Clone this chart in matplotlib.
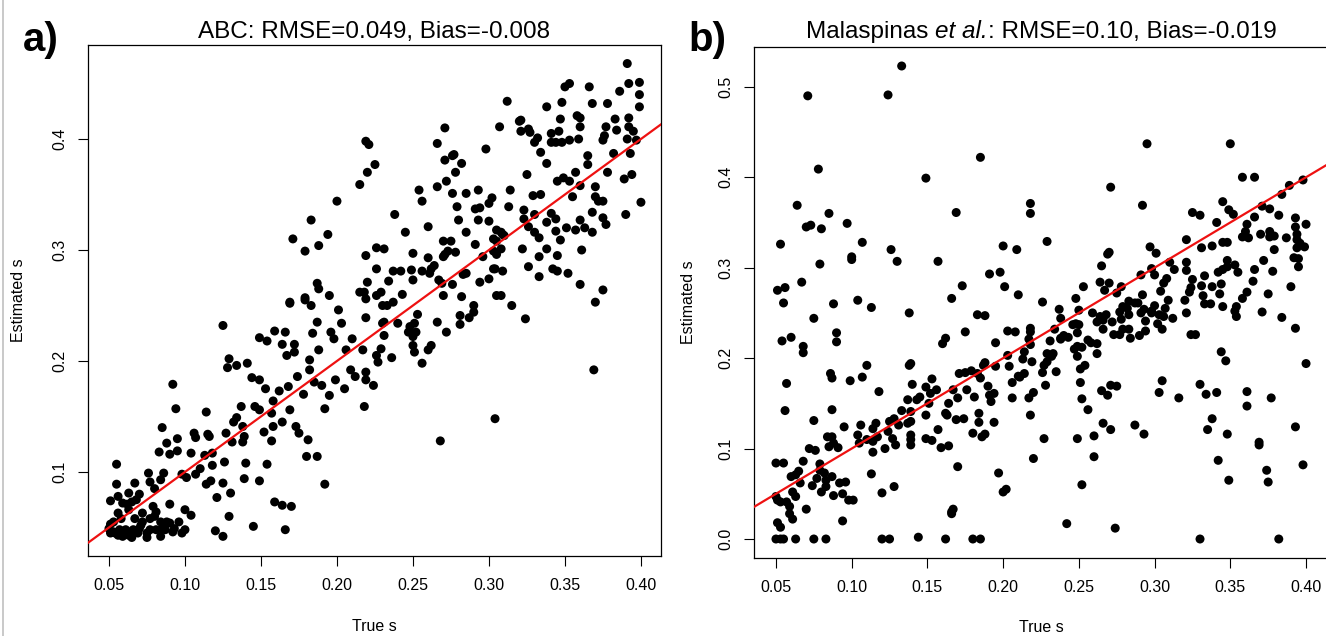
"""
Two scatter panels of estimated vs true s (ABC and Malaspinas et al.)
with the identity line, R-style axes.
"""
import matplotlib
matplotlib.use("Agg")
import matplotlib.pyplot as plt
from matplotlib.lines import Line2D

plt.rcParams['font.family'] = ['Liberation Sans', 'DejaVu Sans']

# panel a) ABC estimates
a_true = [
    0.055, 0.055, 0.051, 0.056, 0.063, 0.070, 0.067, 0.076, 0.077, 0.080,
    0.084, 0.086, 0.085, 0.088, 0.083, 0.090, 0.095, 0.095, 0.092, 0.094,
    0.098, 0.101, 0.104, 0.106, 0.107, 0.107, 0.110, 0.113, 0.114, 0.115,
    0.116, 0.118, 0.114, 0.117, 0.118, 0.121, 0.125, 0.126, 0.125, 0.127,
    0.129, 0.128, 0.134, 0.131, 0.130, 0.129, 0.120, 0.125, 0.132, 0.134,
    0.137, 0.138, 0.139, 0.138, 0.140, 0.139, 0.141, 0.144, 0.145, 0.146,
    0.149, 0.149, 0.149, 0.149, 0.152, 0.153, 0.154, 0.154, 0.157, 0.157,
    0.158, 0.158, 0.159, 0.159, 0.162, 0.164, 0.164, 0.164, 0.166, 0.166,
    0.167, 0.168, 0.169, 0.170, 0.169, 0.172, 0.172, 0.173, 0.174, 0.175,
    0.178, 0.180, 0.181, 0.179, 0.182, 0.182, 0.183, 0.184, 0.185, 0.187,
    0.187, 0.188, 0.190, 0.192, 0.192, 0.195, 0.196, 0.198, 0.199, 0.201,
    0.203, 0.205, 0.206, 0.209, 0.210, 0.212, 0.051, 0.054, 0.057, 0.059,
    0.061, 0.063, 0.066, 0.070, 0.075, 0.077, 0.084, 0.085, 0.088, 0.092,
    0.096, 0.098, 0.053, 0.056, 0.059, 0.063, 0.067, 0.072, 0.079, 0.080,
    0.090, 0.100, 0.104, 0.084, 0.072, 0.068, 0.050, 0.053, 0.056, 0.063,
    0.065, 0.069, 0.075, 0.081, 0.087, 0.090, 0.093, 0.100, 0.051, 0.058,
    0.062, 0.065, 0.071, 0.077, 0.081, 0.219, 0.221, 0.225, 0.220, 0.215,
    0.200, 0.183, 0.171, 0.179, 0.188, 0.194, 0.238, 0.245, 0.260, 0.254,
    0.256, 0.266, 0.271, 0.271, 0.276, 0.277, 0.282, 0.278, 0.272, 0.266,
    0.276, 0.285, 0.293, 0.298, 0.307, 0.302, 0.300, 0.279, 0.280, 0.291,
    0.294, 0.293, 0.300, 0.285, 0.305, 0.270, 0.275, 0.291, 0.303, 0.219,
    0.226, 0.231, 0.226, 0.250, 0.260, 0.270, 0.273, 0.278, 0.271, 0.296,
    0.303, 0.237, 0.242, 0.249, 0.256, 0.262, 0.264, 0.261, 0.234, 0.250,
    0.220, 0.218, 0.215, 0.187, 0.188, 0.195, 0.179, 0.169, 0.283, 0.285,
    0.294, 0.300, 0.303, 0.267, 0.269, 0.276, 0.270, 0.282, 0.305, 0.226,
    0.229, 0.243, 0.219, 0.219, 0.230, 0.233, 0.237, 0.230, 0.231, 0.240,
    0.248, 0.251, 0.252, 0.247, 0.250, 0.253, 0.266, 0.272, 0.281, 0.281,
    0.287, 0.290, 0.290, 0.262, 0.260, 0.250, 0.251, 0.256, 0.231, 0.229,
    0.236, 0.226, 0.227, 0.224, 0.219, 0.219, 0.218, 0.217, 0.304, 0.268,
    0.391, 0.392, 0.399, 0.399, 0.399, 0.386, 0.366, 0.368, 0.378, 0.350,
    0.353, 0.348, 0.338, 0.312, 0.358, 0.360, 0.347, 0.321, 0.320, 0.383,
    0.392, 0.392, 0.377, 0.360, 0.321, 0.326, 0.327, 0.341, 0.346, 0.332,
    0.330, 0.341, 0.344, 0.348, 0.353, 0.359, 0.376, 0.375, 0.384, 0.391,
    0.395, 0.397, 0.334, 0.338, 0.325, 0.365, 0.365, 0.382, 0.393, 0.378,
    0.357, 0.345, 0.349, 0.353, 0.360, 0.389, 0.394, 0.314, 0.329, 0.334,
    0.355, 0.370, 0.370, 0.372, 0.375, 0.400, 0.313, 0.323, 0.330, 0.323,
    0.341, 0.344, 0.368, 0.390, 0.326, 0.330, 0.333, 0.338, 0.344, 0.347,
    0.351, 0.357, 0.360, 0.363, 0.368, 0.375, 0.377, 0.322, 0.326, 0.333,
    0.338, 0.345, 0.333, 0.342, 0.345, 0.352, 0.361, 0.360, 0.375, 0.370,
    0.324, 0.315, 0.369, 0.308, 0.309, 0.310, 0.305, 0.308, 0.305, 0.309,
    0.304, 0.308,
]
a_est = [
    0.107, 0.089, 0.074, 0.078, 0.081, 0.080, 0.090, 0.099, 0.091, 0.085,
    0.093, 0.099, 0.140, 0.126, 0.118, 0.116, 0.119, 0.130, 0.179, 0.157,
    0.098, 0.095, 0.117, 0.135, 0.131, 0.098, 0.103, 0.115, 0.154, 0.134,
    0.132, 0.117, 0.089, 0.092, 0.106, 0.077, 0.232, 0.109, 0.090, 0.135,
    0.202, 0.194, 0.196, 0.127, 0.081, 0.060, 0.047, 0.042, 0.145, 0.149,
    0.159, 0.141, 0.132, 0.127, 0.108, 0.094, 0.198, 0.185, 0.051, 0.159,
    0.156, 0.092, 0.221, 0.183, 0.136, 0.175, 0.218, 0.107, 0.153, 0.128,
    0.164, 0.141, 0.227, 0.073, 0.173, 0.215, 0.145, 0.070, 0.226, 0.048,
    0.205, 0.177, 0.156, 0.069, 0.252, 0.215, 0.208, 0.141, 0.186, 0.135,
    0.170, 0.114, 0.129, 0.255, 0.201, 0.192, 0.250, 0.225, 0.181, 0.235,
    0.114, 0.210, 0.178, 0.157, 0.089, 0.169, 0.226, 0.220, 0.183, 0.246,
    0.234, 0.175, 0.210, 0.192, 0.220, 0.186, 0.045, 0.045, 0.048, 0.042,
    0.048, 0.043, 0.048, 0.049, 0.045, 0.048, 0.042, 0.049, 0.055, 0.046,
    0.055, 0.045, 0.055, 0.063, 0.072, 0.066, 0.058, 0.063, 0.069, 0.060,
    0.071, 0.066, 0.061, 0.055, 0.055, 0.075, 0.049, 0.046, 0.043, 0.046,
    0.041, 0.045, 0.041, 0.048, 0.048, 0.054, 0.049, 0.048, 0.053, 0.058,
    0.071, 0.073, 0.052, 0.058, 0.064, 0.398, 0.395, 0.377, 0.370, 0.359,
    0.344, 0.327, 0.310, 0.299, 0.304, 0.314, 0.332, 0.316, 0.321, 0.354,
    0.344, 0.396, 0.410, 0.381, 0.385, 0.386, 0.378, 0.370, 0.362, 0.357,
    0.351, 0.351, 0.354, 0.391, 0.411, 0.347, 0.342, 0.339, 0.327, 0.337,
    0.338, 0.327, 0.326, 0.316, 0.318, 0.308, 0.308, 0.305, 0.310, 0.295,
    0.302, 0.301, 0.283, 0.297, 0.293, 0.294, 0.299, 0.298, 0.296, 0.294,
    0.299, 0.281, 0.281, 0.282, 0.281, 0.283, 0.286, 0.279, 0.272, 0.273,
    0.271, 0.262, 0.262, 0.270, 0.265, 0.259, 0.257, 0.253, 0.278, 0.279,
    0.271, 0.274, 0.283, 0.273, 0.270, 0.269, 0.259, 0.258, 0.259, 0.259,
    0.262, 0.260, 0.256, 0.239, 0.250, 0.250, 0.253, 0.234, 0.235, 0.234,
    0.231, 0.234, 0.226, 0.226, 0.222, 0.242, 0.235, 0.226, 0.241, 0.233,
    0.239, 0.244, 0.250, 0.214, 0.210, 0.214, 0.208, 0.198, 0.223, 0.211,
    0.203, 0.205, 0.199, 0.178, 0.190, 0.183, 0.159, 0.210, 0.148, 0.128,
    0.468, 0.450, 0.451, 0.440, 0.429, 0.443, 0.447, 0.432, 0.432, 0.447,
    0.450, 0.433, 0.429, 0.434, 0.421, 0.419, 0.418, 0.417, 0.416, 0.418,
    0.419, 0.411, 0.411, 0.411, 0.407, 0.409, 0.406, 0.405, 0.407, 0.401,
    0.397, 0.397, 0.397, 0.397, 0.399, 0.400, 0.403, 0.399, 0.408, 0.400,
    0.407, 0.399, 0.388, 0.378, 0.368, 0.385, 0.377, 0.387, 0.387, 0.370,
    0.370, 0.362, 0.365, 0.362, 0.358, 0.364, 0.368, 0.354, 0.349, 0.350,
    0.348, 0.357, 0.348, 0.344, 0.344, 0.343, 0.339, 0.336, 0.332, 0.328,
    0.333, 0.328, 0.334, 0.332, 0.321, 0.316, 0.311, 0.325, 0.317, 0.309,
    0.320, 0.318, 0.327, 0.320, 0.316, 0.329, 0.323, 0.301, 0.285, 0.294,
    0.301, 0.295, 0.276, 0.283, 0.281, 0.279, 0.300, 0.269, 0.264, 0.253,
    0.238, 0.250, 0.192, 0.316, 0.314, 0.313, 0.308, 0.301, 0.296, 0.281,
    0.283, 0.259,
]

# panel b) Malaspinas et al. estimates
b_true = [
    0.133, 0.124, 0.071, 0.078, 0.149, 0.185, 0.064, 0.169, 0.085, 0.070,
    0.073, 0.080, 0.097, 0.053, 0.107, 0.100, 0.100, 0.126, 0.130, 0.157,
    0.200, 0.209, 0.079, 0.067, 0.051, 0.056, 0.055, 0.198, 0.191, 0.201,
    0.210, 0.173, 0.166, 0.104, 0.113, 0.088, 0.075, 0.138, 0.183, 0.188,
    0.060, 0.054, 0.090, 0.090, 0.175, 0.160, 0.162, 0.203, 0.208, 0.195,
    0.068, 0.068, 0.138, 0.139, 0.110, 0.107, 0.099, 0.057, 0.056, 0.086,
    0.087, 0.087, 0.075, 0.118, 0.140, 0.153, 0.188, 0.187, 0.171, 0.175,
    0.179, 0.183, 0.195, 0.203, 0.204, 0.206, 0.206, 0.210, 0.185, 0.190,
    0.191, 0.194, 0.192, 0.194, 0.197, 0.200, 0.202, 0.176, 0.181, 0.170,
    0.167, 0.164, 0.163, 0.162, 0.156, 0.152, 0.149, 0.151, 0.145, 0.143,
    0.137, 0.149, 0.139, 0.133, 0.137, 0.139, 0.131, 0.128, 0.125, 0.124,
    0.139, 0.139, 0.139, 0.127, 0.129, 0.122, 0.116, 0.114, 0.117, 0.114,
    0.114, 0.110, 0.106, 0.104, 0.105, 0.095, 0.087, 0.084, 0.085, 0.088,
    0.091, 0.072, 0.076, 0.050, 0.055, 0.068, 0.079, 0.079, 0.065, 0.060,
    0.063, 0.066, 0.074, 0.077, 0.082, 0.087, 0.083, 0.080, 0.083, 0.092,
    0.096, 0.094, 0.098, 0.101, 0.088, 0.061, 0.063, 0.050, 0.053, 0.057,
    0.059, 0.070, 0.059, 0.061, 0.051, 0.053, 0.094, 0.113, 0.120, 0.128,
    0.170, 0.167, 0.166, 0.166, 0.164, 0.159, 0.157, 0.153, 0.149, 0.180,
    0.186, 0.188, 0.184, 0.184, 0.174, 0.169, 0.144, 0.050, 0.053, 0.055,
    0.063, 0.075, 0.083, 0.120, 0.125, 0.162, 0.180, 0.185, 0.051,
    0.295, 0.350, 0.271, 0.358, 0.366, 0.218, 0.218, 0.292, 0.345, 0.349,
    0.352, 0.325, 0.330, 0.341, 0.398, 0.389, 0.384, 0.376, 0.382, 0.371,
    0.366, 0.361, 0.360, 0.358, 0.362, 0.370, 0.376, 0.379, 0.376, 0.393,
    0.400, 0.393, 0.394, 0.394, 0.396, 0.399, 0.394, 0.387, 0.379, 0.372,
    0.366, 0.378, 0.392, 0.395, 0.395, 0.390, 0.375, 0.371, 0.384, 0.393,
    0.400, 0.365, 0.361, 0.358, 0.354, 0.353, 0.354, 0.355, 0.353, 0.348,
    0.345, 0.342, 0.348, 0.345, 0.348, 0.338, 0.331, 0.321, 0.344, 0.343,
    0.338, 0.345, 0.333, 0.331, 0.332, 0.333, 0.337, 0.325, 0.324, 0.323,
    0.320, 0.321, 0.321, 0.313, 0.310, 0.297, 0.301, 0.298, 0.300, 0.291,
    0.278, 0.275, 0.265, 0.270, 0.269, 0.264, 0.270, 0.267, 0.253, 0.308,
    0.306, 0.304, 0.309, 0.307, 0.303, 0.306, 0.312, 0.302, 0.305, 0.321,
    0.324, 0.327, 0.300, 0.298, 0.294, 0.294, 0.290, 0.292, 0.289, 0.287,
    0.283, 0.282, 0.279, 0.277, 0.283, 0.293, 0.291, 0.298, 0.278, 0.283,
    0.279, 0.273, 0.277, 0.284, 0.272, 0.268, 0.266, 0.264, 0.262, 0.259,
    0.266, 0.258, 0.256, 0.262, 0.262, 0.248, 0.250, 0.248, 0.250, 0.246,
    0.249, 0.252, 0.249, 0.247, 0.249, 0.254, 0.251, 0.251, 0.252, 0.256,
    0.249, 0.252, 0.238, 0.237, 0.234, 0.240, 0.238, 0.243, 0.231, 0.238,
    0.233, 0.229, 0.232, 0.229, 0.227, 0.226, 0.228, 0.235, 0.226, 0.218,
    0.218, 0.217, 0.218, 0.214, 0.213, 0.219, 0.214, 0.211, 0.220, 0.217,
    0.218, 0.227, 0.220, 0.242, 0.229, 0.265, 0.269, 0.271, 0.275, 0.266,
    0.271, 0.260, 0.260, 0.274, 0.287, 0.293, 0.305, 0.303, 0.316, 0.330,
    0.334, 0.341, 0.338, 0.335, 0.344, 0.347, 0.342, 0.348, 0.349, 0.330,
    0.361, 0.361, 0.369, 0.369, 0.374, 0.375, 0.377, 0.382, 0.393, 0.398,
]
b_est = [
    0.523, 0.491, 0.490, 0.409, 0.399, 0.422, 0.369, 0.361, 0.360, 0.345,
    0.347, 0.343, 0.349, 0.326, 0.328, 0.312, 0.309, 0.320, 0.307, 0.307,
    0.324, 0.320, 0.304, 0.284, 0.275, 0.278, 0.261, 0.295, 0.293, 0.279,
    0.270, 0.280, 0.266, 0.264, 0.256, 0.260, 0.244, 0.250, 0.248, 0.247,
    0.223, 0.219, 0.228, 0.218, 0.229, 0.216, 0.222, 0.230, 0.229, 0.217,
    0.213, 0.206, 0.192, 0.194, 0.192, 0.179, 0.175, 0.172, 0.142, 0.183,
    0.178, 0.143, 0.131, 0.163, 0.171, 0.177, 0.195, 0.192, 0.183, 0.184,
    0.186, 0.183, 0.191, 0.203, 0.191, 0.173, 0.156, 0.180, 0.178, 0.169,
    0.159, 0.161, 0.152, 0.129, 0.073, 0.052, 0.055, 0.165, 0.157, 0.156,
    0.165, 0.150, 0.137, 0.139, 0.165, 0.161, 0.168, 0.150, 0.157, 0.154,
    0.154, 0.137, 0.141, 0.142, 0.128, 0.130, 0.126, 0.133, 0.130, 0.119,
    0.115, 0.104, 0.110, 0.111, 0.104, 0.100, 0.128, 0.122, 0.113, 0.108,
    0.096, 0.110, 0.126, 0.115, 0.106, 0.124, 0.113, 0.113, 0.102, 0.106,
    0.101, 0.100, 0.098, 0.084, 0.084, 0.086, 0.083, 0.076, 0.075, 0.069,
    0.071, 0.062, 0.059, 0.067, 0.073, 0.069, 0.065, 0.052, 0.058, 0.062,
    0.063, 0.050, 0.043, 0.043, 0.048, 0.052, 0.047, 0.047, 0.041, 0.041,
    0.036, 0.033, 0.028, 0.022, 0.018, 0.013, 0.020, 0.072, 0.051, 0.058,
    0.080, 0.033, 0.028, 0.030, 0.103, 0.101, 0.121, 0.109, 0.111, 0.117,
    0.113, 0.116, 0.139, 0.129, 0.133, 0.132, 0.002, 0.000, 0.000, 0.000,
    0.000, 0.000, 0.000, 0.000, 0.000, 0.000, 0.000, 0.000, 0.043,
    0.437, 0.437, 0.389, 0.400, 0.400, 0.371, 0.360, 0.369, 0.373, 0.364,
    0.359, 0.361, 0.358, 0.350, 0.397, 0.391, 0.381, 0.365, 0.358, 0.368,
    0.356, 0.348, 0.340, 0.334, 0.333, 0.337, 0.340, 0.335, 0.334, 0.355,
    0.348, 0.345, 0.337, 0.331, 0.327, 0.323, 0.322, 0.333, 0.320, 0.308,
    0.298, 0.296, 0.311, 0.310, 0.301, 0.279, 0.271, 0.251, 0.245, 0.233,
    0.194, 0.285, 0.273, 0.266, 0.257, 0.252, 0.246, 0.295, 0.303, 0.301,
    0.298, 0.295, 0.308, 0.328, 0.328, 0.324, 0.322, 0.331, 0.282, 0.271,
    0.279, 0.257, 0.291, 0.280, 0.269, 0.260, 0.260, 0.287, 0.278, 0.273,
    0.264, 0.306, 0.297, 0.298, 0.306, 0.323, 0.316, 0.299, 0.292, 0.292,
    0.279, 0.272, 0.302, 0.317, 0.315, 0.284, 0.283, 0.275, 0.279, 0.288,
    0.283, 0.274, 0.264, 0.255, 0.248, 0.246, 0.244, 0.238, 0.232, 0.250,
    0.226, 0.226, 0.258, 0.252, 0.241, 0.230, 0.225, 0.270, 0.261, 0.261,
    0.263, 0.255, 0.257, 0.251, 0.248, 0.254, 0.250, 0.250, 0.243, 0.232,
    0.232, 0.226, 0.226, 0.222, 0.240, 0.248, 0.242, 0.246, 0.240, 0.250,
    0.232, 0.217, 0.220, 0.216, 0.205, 0.266, 0.253, 0.238, 0.237, 0.237,
    0.228, 0.212, 0.213, 0.210, 0.202, 0.192, 0.188, 0.173, 0.155, 0.143,
    0.111, 0.060, 0.244, 0.254, 0.232, 0.225, 0.222, 0.223, 0.219, 0.221,
    0.205, 0.205, 0.202, 0.196, 0.192, 0.184, 0.170, 0.185, 0.262, 0.233,
    0.229, 0.221, 0.215, 0.207, 0.199, 0.196, 0.183, 0.179, 0.162, 0.156,
    0.137, 0.111, 0.089, 0.017, 0.329, 0.164, 0.159, 0.170, 0.169, 0.128,
    0.121, 0.114, 0.091, 0.012, 0.126, 0.116, 0.175, 0.162, 0.156, 0.171,
    0.160, 0.162, 0.133, 0.121, 0.207, 0.197, 0.087, 0.116, 0.065, 0.000,
    0.163, 0.147, 0.107, 0.104, 0.076, 0.063, 0.156, 0.000, 0.124, 0.082,
]

x_ticks = [0.05, 0.10, 0.15, 0.20, 0.25, 0.30, 0.35, 0.40]
a_yticks = [0.1, 0.2, 0.3, 0.4]
b_yticks = [0.0, 0.1, 0.2, 0.3, 0.4, 0.5]

W, H = 1326, 636
TITLE_SIZE = 17.5


def px_axes(fig, left, right, top, bottom):
    """axes from pixel edges of the reference image"""
    return fig.add_axes([left / W, 1 - bottom / H, (right - left) / W, (bottom - top) / H])


def r_style(ax, xlim, ylim, yticks, yfmt):
    ax.set_xlim(*xlim)
    ax.set_ylim(*ylim)
    ax.set_xticks(x_ticks)
    ax.set_xticklabels(['%.2f' % t for t in x_ticks])
    ax.set_yticks(yticks)
    ax.set_yticklabels([yfmt % t for t in yticks], rotation=90, va='center')
    ax.tick_params(direction='out', length=7, width=0.8, labelsize=11.5, pad=9)
    ax.tick_params(axis='y', pad=8)
    for s in ax.spines.values():
        s.set_linewidth(0.9)
    ax.set_xlabel('True s', fontsize=11.5)
    ax.set_ylabel('Estimated s', fontsize=11.5)


def draw_panel(ax, xs, ys):
    ax.scatter(xs, ys, s=42, c='black', edgecolors='none', zorder=2)
    lo, hi = ax.get_xlim()
    ax.plot([lo - 0.1, hi + 0.1], [lo - 0.1, hi + 0.1], color='#ee1111', lw=1.6, zorder=3)


def mixed_title(fig, parts, center_px, base_px):
    """title built from (text, style, space_after) pieces, centred on center_px"""
    texts = [fig.text(0, 1 - base_px / H, s, fontsize=TITLE_SIZE, style=st, va='baseline')
             for s, st, _ in parts]
    fig.canvas.draw()
    r = fig.canvas.get_renderer()
    # width of one space = "a a" - "aa"
    p1 = fig.text(0, 0, 'a a', fontsize=TITLE_SIZE)
    p2 = fig.text(0, 0, 'aa', fontsize=TITLE_SIZE)
    space = p1.get_window_extent(r).width - p2.get_window_extent(r).width
    p1.remove()
    p2.remove()
    widths = [t.get_window_extent(r).width for t in texts]
    total = sum(widths) + space * sum(1 for p in parts if p[2])
    x = center_px - total / 2
    for t, w, (_, _, gap) in zip(texts, widths, parts):
        t.set_x(x / W)
        x += w + (space if gap else 0)


fig = plt.figure(figsize=(W / 100, H / 100), dpi=100)

ax1 = px_axes(fig, 88, 661, 45, 556)
r_style(ax1, (0.0362, 0.4132), (0.0243, 0.4847), a_yticks, '%.1f')
draw_panel(ax1, a_true, a_est)
fig.text((88 + 661) / 2 / W, 1 - 38 / H, 'ABC: RMSE=0.049, Bias=-0.008',
         fontsize=TITLE_SIZE, ha='center', va='baseline')
ax1.xaxis.set_label_coords(0.5, -0.123)
ax1.yaxis.set_label_coords(-0.108, 0.5)

ax2 = px_axes(fig, 754, 1328, 47, 558)
r_style(ax2, (0.0355, 0.4145), (-0.021, 0.544), b_yticks, '%.1f')
draw_panel(ax2, b_true, b_est)
ax2.xaxis.set_label_coords(0.5, -0.121)
ax2.yaxis.set_label_coords(-0.101, 0.5)

fig.text(23 / W, 1 - 40 / H, 'a)', fontsize=29, fontweight='bold', va='center', ha='left')
fig.text(688 / W, 1 - 40 / H, 'b)', fontsize=29, fontweight='bold', va='center', ha='left')

# thin grey frame on the left edge of the original screenshot
fig.add_artist(Line2D([3 / W, 3 / W], [0, 1], color='#c0c0c0', lw=1.2))

mixed_title(fig, [('Malaspinas', 'normal', True), ('et al.', 'italic', False),
                  (': RMSE=0.10, Bias=-0.019', 'normal', False)], 1041, 38)

fig.savefig('out.png', dpi=100)
